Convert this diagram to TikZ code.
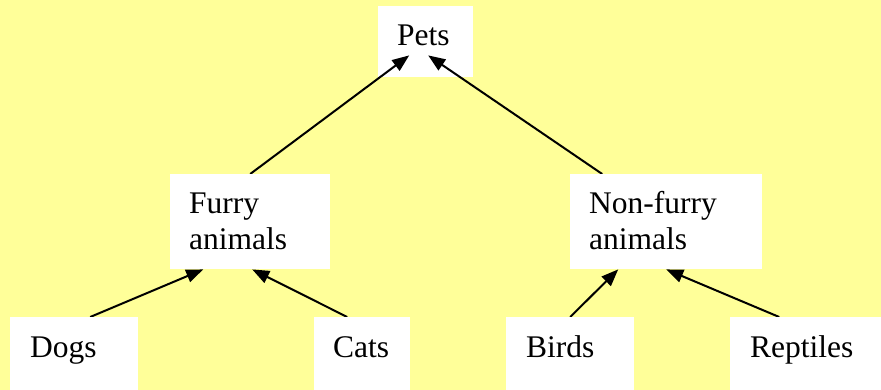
\documentclass[tikz,border=0pt]{standalone}
\usepackage{fontspec}
\setmainfont{Liberation Serif}
\usetikzlibrary{arrows.meta,calc}
\definecolor{paper}{HTML}{FFFF99}
\pgfdeclarelayer{backdrop}
\pgfdeclarelayer{links}
\pgfsetlayers{backdrop,links,main}
\tikzset{
  card/.style={rectangle, fill=white, draw=none, anchor=north west,
    inner ysep=0pt, align=left, font=\fontsize{31.5}{36}\selectfont},
  link/.style={line width=2pt, -{Triangle[length=17pt,width=13pt]}}
}
\begin{document}
\begin{tikzpicture}[x=1pt,y=-1pt]
  \begin{pgfonlayer}{backdrop}
    \fill[paper] (0,0) rectangle (881,390);
    % top box sits below the arrows
    \node[card, inner xsep=19pt, text width=57pt, text height=39pt, text depth=32pt]
      (pets) at (378,6) {Pets};
  \end{pgfonlayer}
  \useasboundingbox (0,0) rectangle (881,390);

  % middle level
  \node[card, inner xsep=19pt, text width=122pt, text height=39pt, text depth=56pt]
    (furry) at (170,174) {Furry\\animals};
  \node[card, inner xsep=19pt, text width=154pt, text height=39pt, text depth=56pt]
    (nonfurry) at (570,174) {Non-furry\\animals};

  % bottom level
  \node[card, inner xsep=20pt, text width=88pt, text height=40pt, text depth=33pt]
    (dogs) at (10,317) {Dogs};
  \node[card, inner xsep=19pt, text width=58pt, text height=40pt, text depth=33pt]
    (cats) at (314,317) {Cats};
  \node[card, inner xsep=20pt, text width=88pt, text height=40pt, text depth=33pt]
    (birds) at (506,317) {Birds};
  \node[card, inner xsep=20pt, text width=111pt, text height=40pt, text depth=33pt]
    (reptiles) at (730,317) {Reptiles};

  \begin{pgfonlayer}{links}
    \draw[link] (furry.north) -- ($(pets.south)+(-16.5,-22)$);
    \draw[link] ($(nonfurry.north)+(-64,0)$) -- ($(pets.south)+(2.5,-22)$);
    \draw[link] ($(dogs.north)+(16,0)$) -- ($(furry.south)+(-47,0)$);
    \draw[link] ($(cats.north)+(-15,0)$) -- ($(furry.south)+(2,0)$);
    \draw[link] (birds.north) -- ($(nonfurry.south)+(-48,0)$);
    \draw[link] ($(reptiles.north)+(-26.5,0)$) -- (nonfurry.south);
  \end{pgfonlayer}
\end{tikzpicture}
\end{document}
